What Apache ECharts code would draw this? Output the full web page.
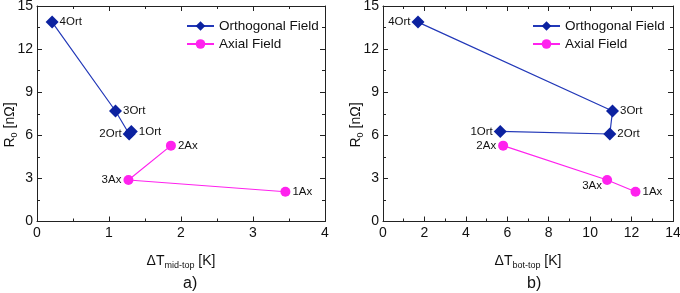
<!DOCTYPE html>
<html><head><meta charset="utf-8">
<script src="https://cdn.jsdelivr.net/npm/echarts@6/dist/echarts.min.js"></script>
<style>html,body{margin:0;padding:0;background:#fff}#c{width:680px;height:293px}</style>
</head><body><div id="c"></div>
<script>
const ortLabels = ['4Ort','3Ort','2Ort','1Ort'];
const ortMidTop = [0.21, 1.09, 1.28, 1.31];
const ortBotTop = [1.69, 11.08, 10.95, 5.66];
const ortR0 = [13.88, 7.69, 6.09, 6.27];
const axLabels = ['2Ax','3Ax','1Ax'];
const axMidTop = [1.86, 1.27, 3.45];
const axBotTop = [5.80, 10.82, 12.19];
const axR0 = [5.28, 2.89, 2.07];
const xTicksA = [0,1,2,3,4];
const xTicksB = [0,2,4,6,8,10,12,14];
const yTicks = [0,3,6,9,12,15];

const posA = {ort:['right','right','left','right'], ax:['right','left','right']};
const posB = {ort:['left','right','right','left'], ax:['left','custom','right']};

const FONT = 'Liberation Sans, Arial, sans-serif';
const ORT_C = '#0c22a0', ORT_L = '#2238b8', AX_C = '#ff22ee';

function pts(xs, ys, labels, pos, dist){
  return xs.map((x,i)=>{
    const p = pos[i];
    let lab = {show:true, formatter:labels[i], position:p, distance:dist};
    if (p==='custom') lab = {show:true, formatter:labels[i], position:[-20,5]};
    return {value:[x, ys[i]], label:lab};
  });
}
const rich = {s:{fontSize:9, fontFamily:FONT, color:'#111', verticalAlign:'bottom', padding:[9,0,0,0]}, n:{fontSize:14, fontFamily:FONT, color:'#111'}};
function xAxisDef(gi, max, interval, ticks, pos, name){
  return {
    gridIndex:gi, type:'value', min:0, max:max, interval:interval, position:pos,
    axisLine:{show:true, onZero:false, lineStyle:{color:'#222', width:1}},
    axisTick:{show:true, inside:true, length:5, lineStyle:{color:'#222'}},
    minorTick:{show:true, splitNumber:2, length:3, lineStyle:{color:'#222'}},
    splitLine:{show:false},
    axisLabel:{show:pos==='bottom', color:'#111', fontSize:14, fontFamily:FONT, margin:5,
      formatter:v=> ticks.indexOf(v)>=0 ? String(v) : ''},
    name: pos==='bottom'? name : '', nameLocation:'middle', nameGap:31,
    nameTextStyle:{color:'#111', fontSize:14, fontFamily:FONT, rich:rich}
  };
}
function yAxisDef(gi, pos){
  return {
    gridIndex:gi, type:'value', min:0, max:15, interval:3, position:pos,
    axisLine:{show:true, onZero:false, lineStyle:{color:'#222', width:1}},
    axisTick:{show:true, inside:true, length:5, lineStyle:{color:'#222'}},
    minorTick:{show:true, splitNumber:2, length:3, lineStyle:{color:'#222'}},
    splitLine:{show:false},
    axisLabel:{show:pos==='left', color:'#111', fontSize:14, fontFamily:FONT, margin:4,
      formatter:v=> yTicks.indexOf(v)>=0 ? String(v) : ''}
  };
}
function ortSeries(xi, yi, xs, pos){
  return {name:'Orthogonal Field', type:'line', xAxisIndex:xi, yAxisIndex:yi,
    data:pts(xs, ortR0, ortLabels, pos, 1), symbol:'diamond', symbolSize:13,
    itemStyle:{color:ORT_C}, lineStyle:{color:ORT_L, width:1.2},
    label:{color:'#111', fontSize:11.5, fontFamily:FONT}, animation:false, z:3};
}
function axSeries(xi, yi, xs, pos){
  return {name:'Axial Field', type:'line', xAxisIndex:xi, yAxisIndex:yi,
    data:pts(xs, axR0, axLabels, pos, 2), symbol:'circle', symbolSize:10,
    itemStyle:{color:AX_C}, lineStyle:{color:AX_C, width:1.2},
    label:{color:'#111', fontSize:11.5, fontFamily:FONT}, animation:false, z:3};
}
const legendBase = {orient:'vertical', itemWidth:27, itemHeight:12, itemGap:4,
  textStyle:{color:'#111', fontSize:13.5, fontFamily:FONT}, data:['Orthogonal Field','Axial Field']};

const chart = echarts.init(document.getElementById('c'), null, {renderer:'canvas'});
chart.setOption({
  backgroundColor:'#fff',
  animation:false,
  legend:[
    Object.assign({}, legendBase, {left:181, top:14}),
    Object.assign({}, legendBase, {left:527, top:14})
  ],
  grid:[
    {left:37, width:288, top:6, height:215.5, outerBoundsMode:'none', containLabel:false},
    {left:383, width:290, top:6, height:215.5, outerBoundsMode:'none', containLabel:false}
  ],
  xAxis:[
    xAxisDef(0, 4, 1, xTicksA, 'bottom', '{n|ΔT}{s|mid-top}{n| [K]}'),
    xAxisDef(0, 4, 1, xTicksA, 'top', ''),
    xAxisDef(1, 14, 2, xTicksB, 'bottom', '{n|ΔT}{s|bot-top}{n| [K]}'),
    xAxisDef(1, 14, 2, xTicksB, 'top', '')
  ],
  yAxis:[
    yAxisDef(0,'left'), yAxisDef(0,'right'), yAxisDef(1,'left'), yAxisDef(1,'right')
  ],
  series:[
    ortSeries(0, 0, ortMidTop, posA.ort),
    axSeries(0, 0, axMidTop, posA.ax),
    ortSeries(2, 2, ortBotTop, posB.ort),
    axSeries(2, 2, axBotTop, posB.ax)
  ],
  graphic:[
    {type:'text', x:10, y:125, rotation:Math.PI/2,
      style:{text:'{n|R}{s|0}{n| [nΩ]}', rich:rich, align:'center', verticalAlign:'middle', fill:'#111'}},
    {type:'text', x:356, y:125, rotation:Math.PI/2,
      style:{text:'{n|R}{s|0}{n| [nΩ]}', rich:rich, align:'center', verticalAlign:'middle', fill:'#111'}},
    {type:'text', left:183, top:276, style:{text:'a)', fontSize:16, fontFamily:FONT, fill:'#111'}},
    {type:'text', left:527, top:276, style:{text:'b)', fontSize:16, fontFamily:FONT, fill:'#111'}}
  ]
});
</script></body></html>
